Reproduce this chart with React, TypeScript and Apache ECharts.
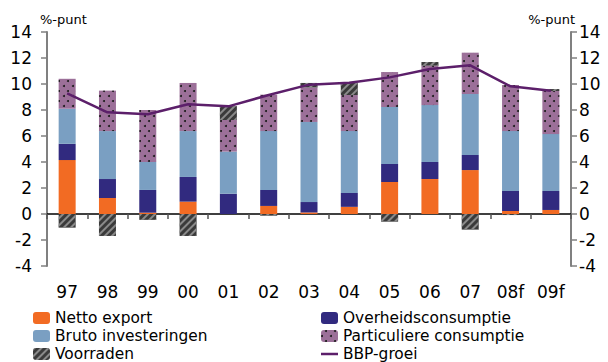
import React, { useEffect, useRef } from "react";
import * as echarts from "echarts";

// Bijdragen aan de BBP-groei (%-punt)
const years = ["97", "98", "99", "00", "01", "02", "03", "04", "05", "06", "07", "08f", "09f"];
const nettoExport = [4.15, 1.23, 0.1, 0.95, 0, 0.62, 0.12, 0.55, 2.46, 2.69, 3.38, 0.23, 0.31];
const overheidsconsumptie = [1.25, 1.46, 1.75, 1.9, 1.56, 1.23, 0.8, 1.07, 1.39, 1.31, 1.16, 1.54, 1.46];
const brutoInvesteringen = [2.7, 3.69, 2.15, 3.53, 3.24, 4.53, 6.16, 4.76, 4.38, 4.38, 4.69, 4.61, 4.38];
const particuliereConsumptie = [2.3, 3.11, 4.0, 3.7, 2.43, 2.8, 2.66, 2.77, 2.69, 3.03, 3.18, 3.54, 3.31];
const voorraden = [-1.05, -1.69, -0.45, -1.69, 1.07, -0.13, 0.34, 0.93, -0.59, 0.28, -1.2, -0.08, 0.15];
const bbpGroei = [9.28, 7.82, 7.67, 8.44, 8.28, 9.15, 9.95, 10.1, 10.51, 11.15, 11.44, 9.82, 9.48];

const FONT = "DejaVu Sans";

export default function App() {
  const ref = useRef<HTMLDivElement>(null);

  useEffect(() => {
    if (!ref.current) return;
    const chart = echarts.init(ref.current, undefined, { renderer: "svg" });

    const yAxisBase = {
      type: "value",
      min: -4,
      max: 14,
      interval: 2,
      splitLine: { show: false },
      axisLine: { show: true, lineStyle: { color: "#808080", width: 2 } },
      axisTick: { show: true, length: 6, lineStyle: { color: "#808080", width: 1.5 } },
    };

    const bar = (name: string, data: number[], color: string, decal?: any) => ({
      name,
      type: "bar",
      stack: "total",
      data,
      barWidth: 17,
      xAxisIndex: 0,
      itemStyle: decal ? { color, decal } : { color },
    });

    const legendText = { fontSize: 15.4, lineHeight: 18, color: "#000", fontFamily: FONT };

    chart.setOption({
      animation: false,
      textStyle: { fontFamily: FONT },
      grid: { left: 47, right: 37, top: 32, bottom: 96 },
      xAxis: [
        {
          type: "category",
          data: years,
          position: "bottom",
          axisLine: { show: false },
          axisTick: { show: false },
          axisLabel: { color: "#000", fontSize: 17, margin: 17, fontFamily: FONT },
        },
        {
          type: "category",
          data: years,
          position: "bottom",
          axisLine: { show: true, onZero: true, lineStyle: { color: "#000", width: 1.5 } },
          axisTick: { show: true, length: 5, lineStyle: { color: "#555", width: 1.5 } },
          axisLabel: { show: false },
        },
      ],
      yAxis: [
        {
          ...yAxisBase,
          position: "left",
          axisLabel: { color: "#000", fontSize: 17, margin: 15, fontFamily: FONT },
        },
        {
          ...yAxisBase,
          position: "right",
          axisLabel: { color: "#000", fontSize: 17, margin: 8, fontFamily: FONT },
        },
      ],
      legend: [
        {
          orient: "vertical",
          left: 33,
          top: 309,
          width: 260,
          height: 60,
          itemWidth: 17,
          itemHeight: 12,
          itemGap: 0,
          padding: 0,
          textStyle: legendText,
          data: ["Netto export", "Bruto investeringen", "Voorraden"],
        },
        {
          orient: "vertical",
          left: 321,
          top: 309,
          width: 260,
          height: 60,
          itemWidth: 17,
          itemHeight: 12,
          itemGap: 0,
          padding: 0,
          textStyle: legendText,
          data: [
            "Overheidsconsumptie",
            "Particuliere consumptie",
            { name: "BBP-groei", icon: "path://M0,0H17V2.5H0Z" },
          ],
        },
      ],
      graphic: [
        {
          type: "text",
          left: 40,
          top: 13,
          style: { text: "%-punt", fontSize: 13, fill: "#000", fontFamily: FONT },
        },
        {
          type: "text",
          right: 33,
          top: 13,
          style: { text: "%-punt", fontSize: 13, fill: "#000", fontFamily: FONT },
        },
      ],
      series: [
        bar("Netto export", nettoExport, "#f26b23"),
        bar("Overheidsconsumptie", overheidsconsumptie, "#312a7f"),
        bar("Bruto investeringen", brutoInvesteringen, "#7a9fc2"),
        bar("Particuliere consumptie", particuliereConsumptie, "#9c7099", {
          symbol: "circle",
          symbolSize: 1,
          color: "#1a1a1a",
          dashArrayX: [
            [1.6, 6.4],
            [0, 4, 1.6, 2.4],
          ],
          dashArrayY: [1.6, 2.4],
        }),
        // diagonal hatch rising to the right
        bar("Voorraden", voorraden, "#3a3a3a", {
          symbol: "rect",
          symbolSize: 1,
          color: "#8a8a8a",
          dashArrayX: [1, 0],
          dashArrayY: [2, 2.5],
          rotation: -Math.PI / 4,
        }),
        {
          name: "BBP-groei",
          type: "line",
          data: bbpGroei,
          xAxisIndex: 0,
          symbol: "none",
          showSymbol: false,
          z: 5,
          lineStyle: { color: "#5c1f6a", width: 2.5 },
          itemStyle: { color: "#5c1f6a" },
        },
      ],
    });

    return () => chart.dispose();
  }, []);

  return (
    <div
      ref={ref}
      style={{ position: "fixed", left: 0, top: 0, width: 608, height: 362, background: "#fff" }}
    />
  );
}
